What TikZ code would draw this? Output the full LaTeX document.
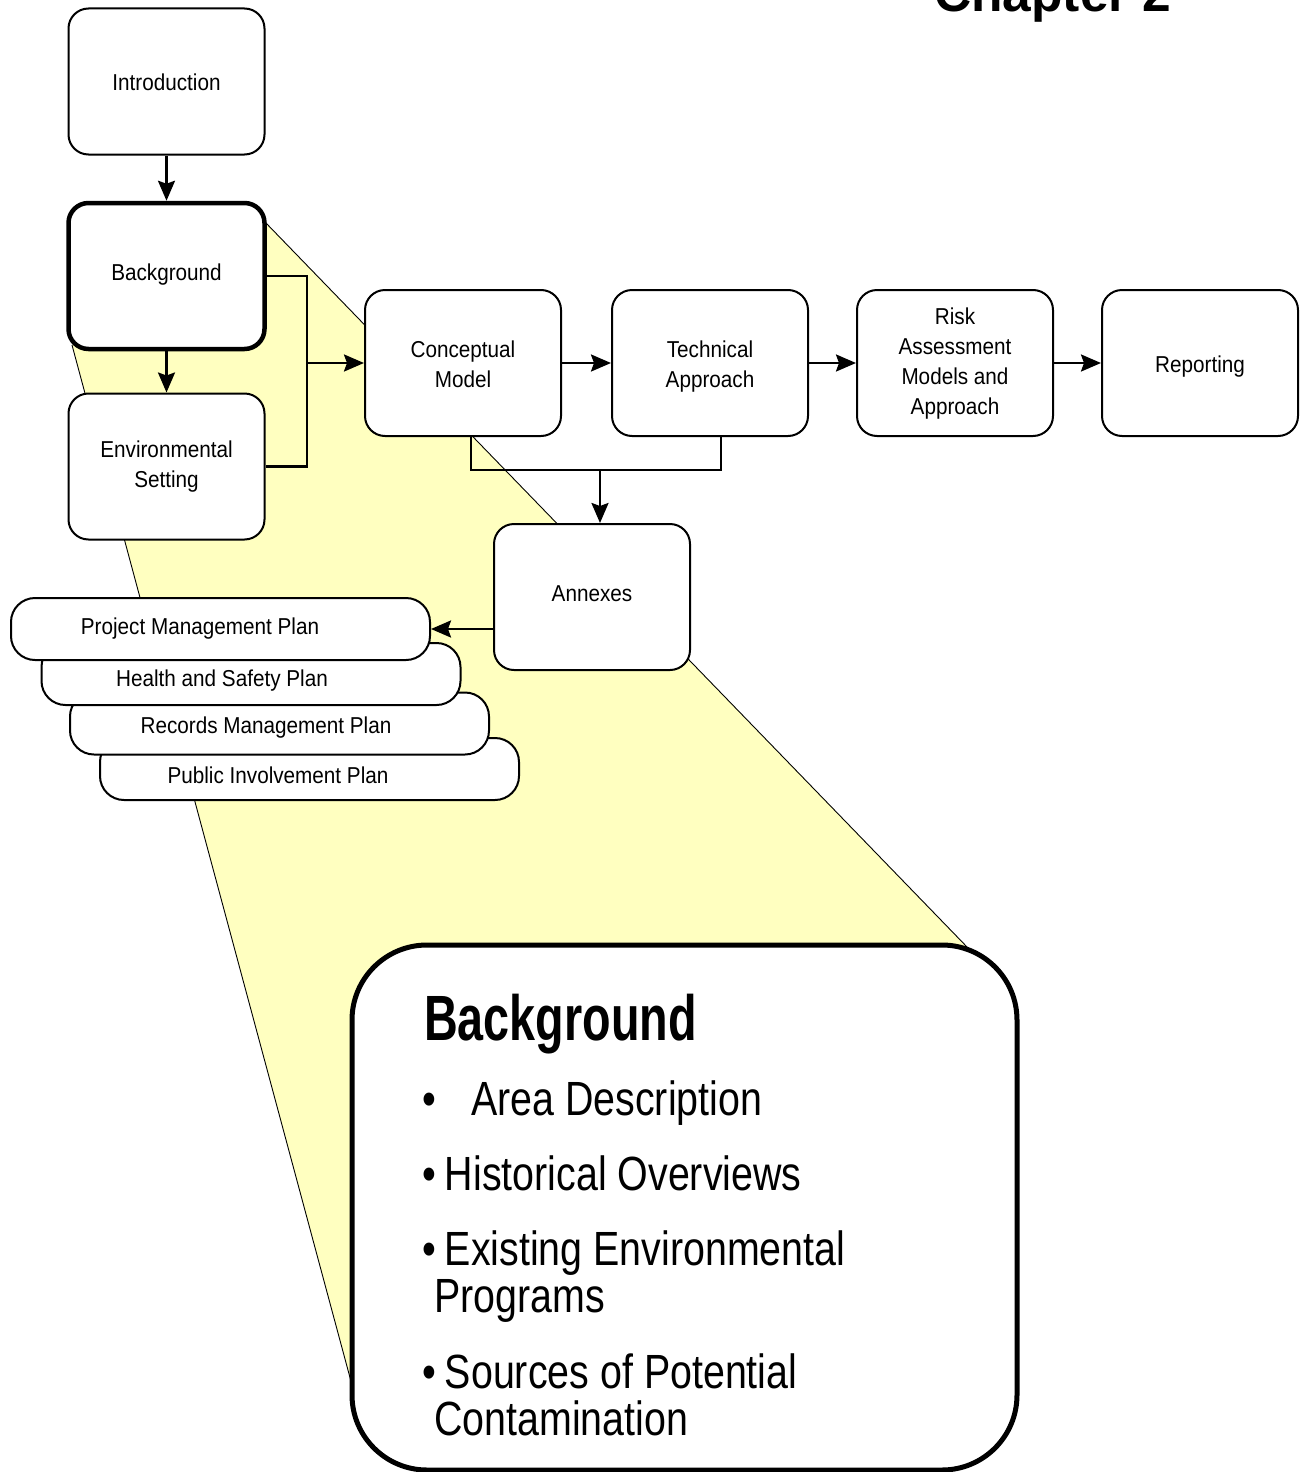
\documentclass[tikz,border=0pt]{standalone}
\usepackage{fontspec}
\setmainfont{Liberation Sans}[FakeStretch=0.9]
\newfontfamily\headfont{Liberation Sans}[FakeStretch=0.73]
\newfontfamily\itemfont{Liberation Sans}[FakeStretch=0.82]
\newfontfamily\chapfont{Liberation Sans}[FakeStretch=0.99]
\usetikzlibrary{arrows.meta}
\definecolor{zoomyellow}{RGB}{255,255,192}
\newcommand{\bul}{\textbullet\hspace{9pt}}
\newcommand{\topstrut}{\rule{0pt}{27pt}}
\newcommand{\lowstrut}{\rule{0pt}{21pt}}
\newcommand{\botstrut}{\rule[-9pt]{0pt}{9pt}}
\tikzset{
  stepbox/.style={draw, fill=white, line width=2pt, rounded corners=20pt,
    minimum width=196pt, minimum height=146pt, align=center, inner sep=0pt,
    font=\fontsize{23}{30}\selectfont},
  planbox/.style={draw, fill=white, line width=2pt, rounded corners=24pt,
    minimum width=419pt, minimum height=62pt, inner sep=0pt},
  plantext/.style={font=\fontsize{23}{28}\selectfont, inner sep=0pt},
  link/.style={line width=2.5pt},
  flow/.style={line width=2.5pt, -{Stealth[length=20pt,width=17pt,inset=3pt]}},
  itemtext/.style={anchor=base west, inner sep=0pt, font=\itemfont\fontsize{48}{56}\selectfont},
}
\begin{document}
\begin{tikzpicture}[x=1pt,y=-1pt]
\useasboundingbox (0,0) rectangle (1302,1472);

% magnifier wedge from the Background step to its detail panel
\fill[zoomyellow] (265,222) -- (968,948) -- (352,1385) -- (72,345) -- cycle;
\draw[line width=0.9pt] (265,222) -- (968,948);
\draw[line width=0.9pt] (72,345) -- (352,1385);

% chapter title
\node[anchor=base west, inner sep=0pt, font=\chapfont\bfseries\fontsize{52}{60}\selectfont] (chap) at (934,12) {Chapter 2};

% main sequence
\node[stepbox] (intro) at (166.5,81.5) {\topstrut Introduction\botstrut};
\node[stepbox, line width=4.5pt] (bg) at (166.5,276) {\topstrut\raisebox{5pt}{Background}\botstrut};
\node[stepbox] (env) at (166.5,466.5) {\lowstrut Environmental\\Setting\botstrut};
\node[stepbox] (concept) at (463,363) {\topstrut Conceptual\\Model\botstrut};
\node[stepbox] (tech) at (710,363) {\topstrut Technical\\Approach\botstrut};
\node[stepbox] (risk) at (955,363) {\lowstrut Risk\\Assessment\\Models and\\Approach\botstrut};
\node[stepbox] (report) at (1200,363) {\topstrut Reporting\botstrut};
\node[stepbox] (annex) at (592,597) {\topstrut\raisebox{5pt}{Annexes}\botstrut};

% stacked annex plans (back to front)
\node[planbox] (pip) at (309.5,769) {};
\node[planbox] (rmp) at (279.5,723.5) {};
\node[planbox] (hsp) at (251,674) {};
\node[planbox] (pmp) at (220.5,629) {};
\node[plantext] (pmpt) at (200,629) {Project Management Plan};
\node[plantext] (hspt) at (222,681) {Health and Safety Plan};
\node[plantext] (rmpt) at (266,728) {Records Management Plan};
\node[plantext] (pipt) at (278,775) {Public Involvement Plan};

% connectors
\coordinate (bus) at (307,363);
\coordinate (split) at (600,470);
\draw[flow] (intro) -- (bg);
\draw[flow] (bg) -- (env);
\draw[link] (bg.east) -- (bus |- bg.east) |- (env.east);
\draw[flow] (bus) -- (concept.west);
\draw[flow] (concept) -- (tech);
\draw[flow] (tech) -- (risk);
\draw[flow] (risk) -- (report);
\draw[link] ([xshift=8pt]concept.south) |- (split) -| ([xshift=11pt]tech.south);
\draw[flow] (split) -- (split |- annex.north);
\draw[flow] (pmp.east -| annex.west) -- (pmp.east);

% detail panel
\draw[line width=5pt, fill=white, rounded corners=75pt] (352,945) rectangle (1017,1470);
\node[anchor=base west, inner sep=0pt, font=\headfont\bfseries\fontsize{64}{70}\selectfont] (head) at (424,1040) {Background};
\node[itemtext] (b1) at (422,1115) {\textbullet};
\node[itemtext] (i1) at (471,1115) {Area Description};
\node[itemtext] (i2) at (422,1190) {\bul Historical Overviews};
\node[itemtext] (i3) at (422,1265) {\bul Existing Environmental};
\node[itemtext] (i3b) at (434,1312) {Programs};
\node[itemtext] (i4) at (422,1388) {\bul Sources of Potential};
\node[itemtext] (i4b) at (434,1435) {Contamination};
\end{tikzpicture}
\end{document}
